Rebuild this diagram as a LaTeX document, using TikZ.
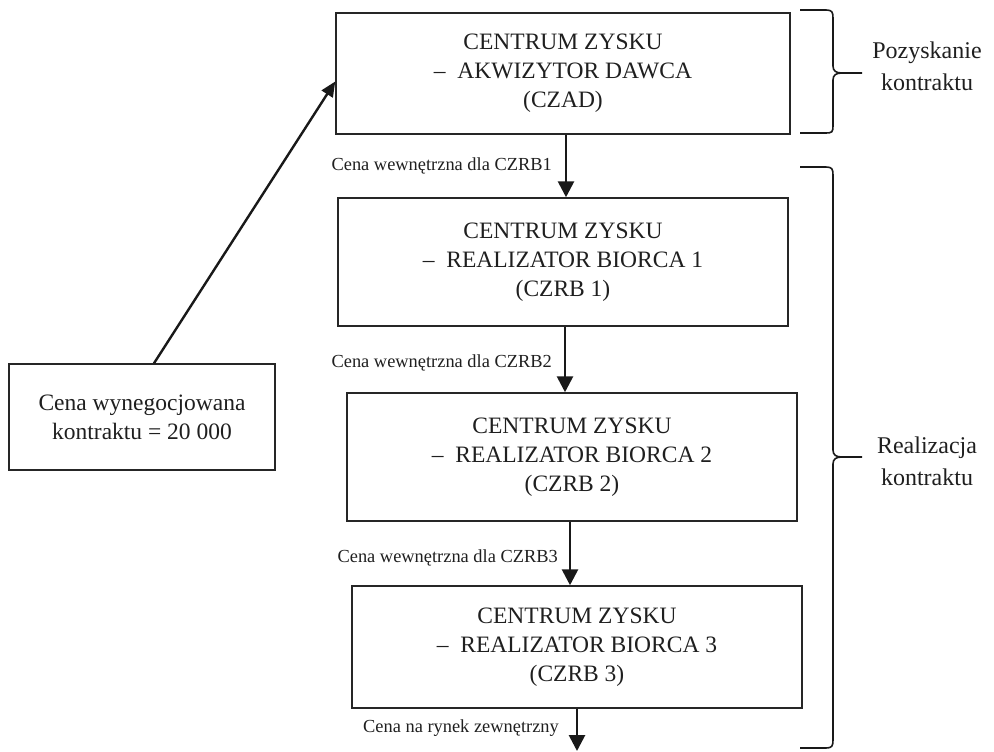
\documentclass[tikz,border=0pt]{standalone}
\usepackage{fontspec}
\setmainfont{Liberation Serif}
\usetikzlibrary{arrows.meta}
\begin{document}
\begin{tikzpicture}[x=1pt,y=-1pt,
  box/.style={draw=black!85,line width=1.5pt,align=center,inner sep=0pt,
    text=black!88,font=\fontsize{23.5}{29}\selectfont},
  lbl/.style={anchor=east,inner sep=0pt,text=black!88,font=\fontsize{18.4}{22}\selectfont},
  side/.style={align=center,inner sep=0pt,text=black!88,font=\fontsize{24}{32}\selectfont},
  arr/.style={line width=2.8pt,black!90,-{Triangle[length=16pt,width=16pt]}},
  darr/.style={line width=2.4pt,black!90,-{Triangle[length=15pt,width=13pt]}},
  brc/.style={line width=1.6pt,black!90}]
\useasboundingbox (0,0) rectangle (994,752);
\node[box,minimum width=454pt,minimum height=121pt] (b1) at (563,73.5)
  {CENTRUM ZYSKU\\ –\ \ AKWIZYTOR DAWCA\\ (CZAD)};
\node[box,minimum width=450pt,minimum height=128pt] (b2) at (563,262)
  {CENTRUM ZYSKU\\ –\ \ REALIZATOR BIORCA 1\\ (CZRB 1)};
\node[box,minimum width=450pt,minimum height=128pt] (b3) at (572,457)
  {CENTRUM ZYSKU\\ –\ \ REALIZATOR BIORCA 2\\ (CZRB 2)};
\node[box,minimum width=450pt,minimum height=122pt] (b4) at (577,647)
  {CENTRUM ZYSKU\\ –\ \ REALIZATOR BIORCA 3\\ (CZRB 3)};
\node[box,minimum width=266pt,minimum height=106pt] (lb) at (142,417)
  {Cena wynegocjowana\\ kontraktu = 20 000};
\coordinate (out) at (577,751);
\draw[arr] ([xshift=3pt]b1.south) -- ([xshift=3pt]b1.south |- b2.north);
\draw[arr] ([xshift=2pt]b2.south) -- ([xshift=2pt]b2.south |- b3.north);
\draw[arr] ([xshift=-2pt]b3.south) -- ([xshift=-2pt]b3.south |- b4.north);
\draw[arr] (b4.south) -- (out);
\draw[darr] ([xshift=12pt]lb.north) -- ([yshift=-8pt]b1.west);
\node[lbl] (l1) at (552,166) {Cena wewnętrzna dla CZRB1};
\node[lbl] (l2) at (552,363) {Cena wewnętrzna dla CZRB2};
\node[lbl] (l3) at (558,558) {Cena wewnętrzna dla CZRB3};
\node[lbl] (l4) at (559,728) {Cena na rynek zewnętrzny};
% braces
\draw[brc] (800,10) -- (826,10) .. controls (832,10) and (833,12) .. (833,18)
  -- (833,66) .. controls (833,71) and (836,73) .. (842,73) -- (862,73);
\draw[brc] (842,73) .. controls (836,73) and (833,75) .. (833,80)
  -- (833,126) .. controls (833,132) and (832,133) .. (826,133) -- (800,133);
\draw[brc] (800,167) -- (826,167) .. controls (832,167) and (833,169) .. (833,175)
  -- (833,450) .. controls (833,455) and (836,457) .. (842,457) -- (862,457);
\draw[brc] (842,457) .. controls (836,457) and (833,459) .. (833,464)
  -- (833,740) .. controls (833,746) and (832,748) .. (826,748) -- (800,748);
\node[side] (s1) at (927,66) {Pozyskanie\\ kontraktu};
\node[side] (s2) at (927,461) {Realizacja\\ kontraktu};
\end{tikzpicture}
\end{document}
